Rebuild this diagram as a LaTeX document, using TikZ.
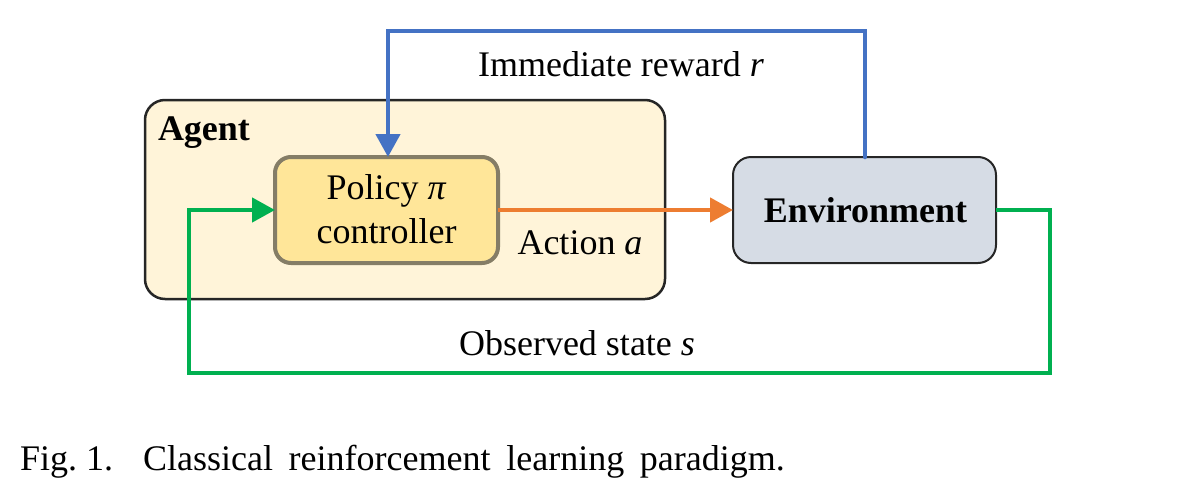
\documentclass[tikz,border=0pt]{standalone}
\usepackage{fontspec}
\setmainfont{Liberation Serif}
\usetikzlibrary{arrows.meta}
\definecolor{agentfill}{HTML}{FFF4D9}
\definecolor{agentdraw}{HTML}{262626}
\definecolor{polfill}{HTML}{FFE699}
\definecolor{poldraw}{HTML}{857D66}
\definecolor{envfill}{HTML}{D6DCE5}
\definecolor{envdraw}{HTML}{262626}
\definecolor{cblue}{HTML}{4472C4}
\definecolor{corange}{HTML}{ED7D31}
\definecolor{cgreen}{HTML}{00B050}
\begin{document}
\begin{tikzpicture}[x=1pt,y=-1pt,
  every node/.style={font=\fontsize{36}{43}\selectfont, inner sep=0pt, outer sep=0pt},
  boxagent/.style={draw=agentdraw, fill=agentfill, line width=2.5pt, rounded corners=20pt, minimum width=520pt, minimum height=199pt},
  boxpol/.style={draw=poldraw, fill=polfill, line width=4pt, rounded corners=16pt, minimum width=223pt, minimum height=106pt, align=center},
  boxenv/.style={draw=envdraw, fill=envfill, line width=2pt, rounded corners=18pt, minimum width=263pt, minimum height=106pt},
  conn/.style={line width=4.5pt, -{Triangle[length=23pt,width=24pt]}},
  lbl/.style={anchor=base}
]
\useasboundingbox (0,0) rectangle (1190,490);
\node[boxagent] (agent) at (405,199.5) {};
\node[lbl, anchor=base west, font=\fontsize{36}{43}\selectfont\bfseries] (agentlbl) at (158,140) {Agent};
\node[boxpol] (pol) at (386.5,210) {};
\node[lbl] (pol1) at (386.5,199) {Policy \textit{π}};
\node[lbl] (pol2) at (386.5,243) {controller};
\node[boxenv] (env) at (864.5,210) {};
\node[lbl, font=\fontsize{36}{43}\selectfont\bfseries] (envlbl) at (865.5,222) {Environment};
\node[lbl] (rew) at (621,76) {Immediate reward \textit{r}};
\node[lbl] (act) at (580,254) {Action \textit{a}};
\node[lbl] (obs) at (577,355) {Observed state \textit{s}};
\node[lbl, anchor=base west] (cap) at (20,470) {Fig.~1.\hspace{30pt}{\spaceskip=15.7pt plus 1pt Classical reinforcement learning paradigm.}};
\coordinate (b1) at (865,31);
\coordinate (b2) at (388,31);
\coordinate (g1) at (1050,373);
\coordinate (g2) at (189,373);
\draw[conn, cblue, line cap=round] (env.north -| b1) -- (b1) -- (b2) -- (pol.north -| b2);
\draw[conn, corange] (pol.east) -- (env.west);
\draw[conn, cgreen] (env.east) -| (g1) -- (g2) |- (pol.west);
\end{tikzpicture}
\end{document}
